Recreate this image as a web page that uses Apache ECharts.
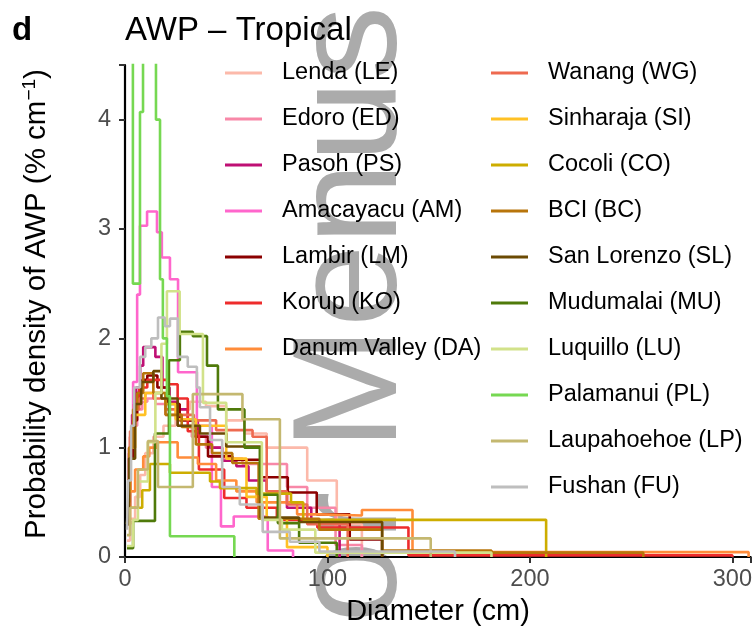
<!DOCTYPE html>
<html><head><meta charset="utf-8">
<script src="https://cdn.jsdelivr.net/npm/echarts@6/dist/echarts.min.js"></script>
<style>html,body{margin:0;padding:0;background:#fff}#c{width:755px;height:628px}</style>
</head><body><div id="c"></div>
<script>
// ---- data (diameter bin breaks in cm, probability density in % per cm) ----
const siteNames = ['Lenda (LE)','Edoro (ED)','Pasoh (PS)','Amacayacu (AM)','Lambir (LM)','Korup (KO)','Danum Valley (DA)',
  'Wanang (WG)','Sinharaja (SI)','Cocoli (CO)','BCI (BC)','San Lorenzo (SL)','Mudumalai (MU)','Luquillo (LU)','Palamanui (PL)','Laupahoehoe (LP)','Fushan (FU)'];
const siteColors = ['#fcb9aa','#f888a8','#bf0f74','#ff66cc','#8b0000','#ee2c2c','#ff8c3a',
  '#ee6a50','#ffc125','#cdad00','#b8750b','#6b4a03','#4f7a0a','#d2e28a','#76d852','#c4b870','#bebebe'];

const breaksLE = [1, 2.5, 5, 7.5, 10, 14, 19, 25, 32, 40, 50, 59, 70, 90, 104.6, 117];
const densLE   = [0.15, 0.35, 0.55, 0.75, 0.95, 1.1, 1.2, 1.35, 1.42, 1.38, 1.25, 1.13, 1.0, 0.7, 0.3];
const breaksED = [1, 2.5, 4, 6, 8.5, 11, 15, 20, 26, 33, 40, 48, 58, 70, 80, 90, 104, 117];
const densED   = [0.6, 1.0, 1.2, 1.35, 1.42, 1.45, 1.4, 1.3, 1.2, 1.1, 1.0, 0.9, 0.85, 0.85, 0.64, 0.45, 0.11];
const breaksPS = [1, 2, 3.5, 5.5, 7.5, 9, 15, 18.5, 22, 26, 31, 36, 42, 48, 55, 61, 70, 80, 92, 106];
const densPS   = [0.5, 0.95, 1.3, 1.55, 1.75, 1.92, 1.83, 1.55, 1.42, 1.35, 1.25, 1.1, 1.0, 0.88, 0.83, 0.7, 0.6, 0.45, 0.31];
const breaksAM = [1, 2, 4, 6, 7.4, 10.9, 15.8, 18.2, 22.2, 26.2, 35.5, 42.9, 47.4, 53.7, 70.5, 83];
const densAM   = [0.3, 1.0, 1.6, 2.4, 3.03, 3.16, 2.97, 2.74, 2.54, 1.69, 1.2, 0.64, 0.28, 0.37, 0.06];
const breaksLM = [1, 2.5, 4, 6, 8.5, 11, 16, 21, 27, 35, 41, 53, 67, 80.4, 94.7, 111, 127];
const densLM   = [0.45, 0.9, 1.25, 1.5, 1.62, 1.66, 1.55, 1.4, 1.25, 1.1, 0.92, 0.89, 0.73, 0.59, 0.39, 0.16];
const breaksKO = [1, 2.5, 4.5, 7, 11, 21, 26, 31, 36.5, 49, 60, 75, 95, 140, 300];
const densKO   = [0.6, 1.1, 1.4, 1.55, 1.62, 1.58, 1.45, 1.15, 0.8, 0.54, 0.45, 0.34, 0.27, 0.015];
const breaksDA = [1, 2.5, 5, 9, 12, 16, 26, 36, 45, 55, 65, 85, 96, 117, 142, 308];
const densDA   = [0.3, 0.6, 0.8, 0.92, 1.0, 1.05, 0.91, 0.85, 0.7, 0.6, 0.5, 0.39, 0.38, 0.43, 0.045];
const breaksWG = [1, 2.5, 4.5, 7, 10, 14, 20, 26, 34, 45, 53, 63, 70, 80, 90, 110];
const densWG   = [0.7, 1.15, 1.35, 1.45, 1.5, 1.45, 1.35, 1.3, 1.25, 1.16, 1.16, 1.1, 0.6, 0.48, 0.3];
const breaksSI = [1, 2.5, 5, 10, 20, 25, 35, 50, 60, 70, 80, 100];
const densSI   = [0.6, 1.0, 1.3, 1.5, 1.4, 1.26, 1.2, 0.9, 0.55, 0.35, 0.09];
const breaksCO = [1, 1.5, 8.5, 12.3, 22.2, 42, 46.9, 65, 82, 88, 208];
const densCO   = [0.3, 0.45, 0.61, 0.85, 0.77, 0.69, 0.63, 0.58, 0.5, 0.34];
const breaksBC = [1, 2, 4, 6, 9, 14, 20, 28, 35, 43, 53, 66, 96, 127, 181, 256];
const densBC   = [0.5, 1.0, 1.35, 1.5, 1.68, 1.5, 1.3, 1.19, 1.03, 0.95, 0.86, 0.35, 0.25, 0.06, 0.04];
const breaksSL = [1, 2, 5, 8, 14, 18, 26, 37, 50, 67, 86, 127];
const densSL   = [0.3, 0.9, 1.4, 1.6, 1.7, 1.45, 1.2, 1.13, 1.01, 0.36, 0.32];
const breaksMU = [1, 4, 14.8, 21.7, 27.1, 33.5, 40.5, 45.9, 59, 66.6, 75.5, 86, 104.6];
const densMU   = [0.08, 0.33, 1.13, 1.8, 2.06, 2.02, 1.75, 1.35, 1.0, 0.57, 0.31, 0.13];
const breaksLU = [1, 4, 6.4, 11.3, 15, 18, 20.7, 27, 38.5, 50, 67.6, 77.5, 94, 181];
const densLU   = [0.1, 0.34, 0.69, 1.05, 1.5, 1.95, 2.43, 2.04, 1.41, 1.05, 0.34, 0.25, 0.04];
const breaksPL = [0, 3.9, 7.4, 8.9, 15.3, 17.3, 18.7, 20.7, 22.2, 54];
const densPL   = [6.0, 2.5, 4.07, 5.5, 4.0, 2.54, 2.0, 1.47, 0.19];
const breaksLP = [1, 2.5, 6.4, 11.3, 16.3, 33.5, 58, 76.5, 151];
const densLP   = [0.2, 0.45, 0.8, 1.06, 0.64, 1.49, 1.26, 0.17];
const breaksFU = [1, 1.5, 3, 4.5, 7.4, 10, 13, 16.3, 19.7, 22.2, 26.1, 31, 35.5, 37, 42, 48, 56.7, 68, 81.4, 96, 163];
const densFU   = [0.25, 0.7, 1.2, 1.55, 1.83, 1.92, 2.0, 2.19, 2.11, 2.18, 1.83, 1.74, 1.55, 1.37, 1.07, 0.64, 0.48, 0.23, 0.14, 0.05];

const xTicks = [0, 100, 200, 300];
const yTicks = [0, 1, 2, 3, 4];

const allBreaks = [breaksLE, breaksED, breaksPS, breaksAM, breaksLM, breaksKO, breaksDA, breaksWG, breaksSI,
  breaksCO, breaksBC, breaksSL, breaksMU, breaksLU, breaksPL, breaksLP, breaksFU];
const allDens = [densLE, densED, densPS, densAM, densLM, densKO, densDA, densWG, densSI,
  densCO, densBC, densSL, densMU, densLU, densPL, densLP, densFU];

function stepData(br, d) {
  const pts = [];
  for (let i = 0; i < d.length; i++) pts.push([br[i], d[i]]);
  pts.push([br[br.length - 1], d[d.length - 1]]);
  pts.push([br[br.length - 1], 0]);
  return pts;
}

const FONT = '"Liberation Sans", Arial, Helvetica, sans-serif';
const chart = echarts.init(document.getElementById('c'), null, {renderer: 'canvas'});

const series = siteNames.map((n, i) => ({
  name: n, type: 'line', step: 'end', showSymbol: false, symbol: 'none',
  data: stepData(allBreaks[i], allDens[i]),
  lineStyle: {width: 2.6, color: siteColors[i]}, itemStyle: {color: siteColors[i]},
  clip: true, z: 2 + i * 0.01, animation: false
}));

const legendBase = {
  orient: 'vertical', icon: 'rect', itemWidth: 37, itemHeight: 3, itemGap: 22,
  padding: 0, selectedMode: false, top: 61,
  textStyle: {fontFamily: FONT, fontSize: 23.5, lineHeight: 24, color: '#000', padding: [0, 0, 0, 15]}
};

chart.setOption({
  backgroundColor: '#fff',
  animation: false,
  grid: {left: 125, right: 3, top: 65, bottom: 71, containLabel: false},
  xAxis: {
    type: 'value', min: 0, max: 309, interval: 100,
    axisLine: {show: true, lineStyle: {color: '#000', width: 2.2}},
    axisTick: {show: true, length: 6, lineStyle: {color: '#333', width: 2}},
    axisLabel: {fontFamily: FONT, fontSize: 23.5, color: '#4d4d4d', margin: 11,
      formatter: v => (xTicks.indexOf(v) >= 0 ? String(v) : '')},
    splitLine: {show: false}
  },
  yAxis: {
    type: 'value', min: 0, max: 4.5, interval: 1,
    axisLine: {show: true, lineStyle: {color: '#000', width: 2.2}},
    axisTick: {show: true, length: 6, lineStyle: {color: '#333', width: 2}},
    axisLabel: {fontFamily: FONT, fontSize: 23.5, color: '#4d4d4d', margin: 14,
      formatter: v => (yTicks.indexOf(v) >= 0 ? String(v) : '')},
    splitLine: {show: false}
  },
  legend: [
    Object.assign({}, legendBase, {left: 225, data: siteNames.slice(0, 7)}),
    Object.assign({}, legendBase, {left: 491, data: siteNames.slice(7)})
  ],
  graphic: [
    {type: 'text', z: -10, x: 355, y: 623, rotation: Math.PI / 2,
      style: {text: 'or Menus', fontFamily: FONT, fontSize: 148, fill: '#ababab',
        align: 'left', verticalAlign: 'middle'}},
    {type: 'text', x: 12, y: 31, style: {text: 'd', fontFamily: FONT, fontSize: 33, fontWeight: 'bold',
      fill: '#000', align: 'left', verticalAlign: 'middle'}},
    {type: 'text', x: 125, y: 31, style: {text: 'AWP \u2013 Tropical', fontFamily: FONT, fontSize: 33,
      fill: '#000', align: 'left', verticalAlign: 'middle'}},
    {type: 'text', x: 438, y: 612, style: {text: 'Diameter (cm)', fontFamily: FONT, fontSize: 29,
      fill: '#000', align: 'center', verticalAlign: 'middle'}},
    {type: 'text', x: 37, y: 304, rotation: Math.PI / 2,
      style: {text: 'Probability density of AWP (% cm{sup|\u22121})', fontFamily: FONT, fontSize: 29.5,
        fill: '#000', align: 'center', verticalAlign: 'middle',
        rich: {sup: {fontFamily: FONT, fontSize: 19, verticalAlign: 'top', lineHeight: 34, padding: [0, 0, 14, 0]}}}}
  ],
  series: series
});
</script></body></html>
